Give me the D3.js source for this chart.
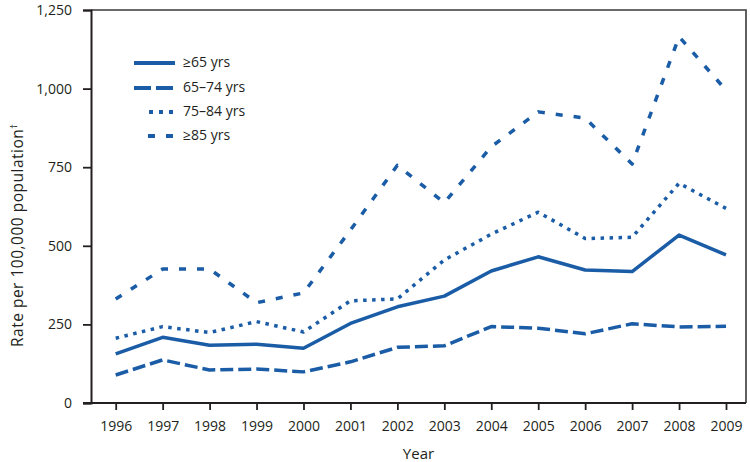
<!DOCTYPE html>
<html>
<head>
<meta charset="utf-8">
<script src="https://cdn.jsdelivr.net/npm/d3@7/dist/d3.min.js"></script>
<style>
  html, body { margin: 0; padding: 0; background: #fff; }
  svg { display: block; }
  text { font-family: "Open Sans", "Noto Sans", sans-serif; fill: #231f20; }
</style>
</head>
<body>
<svg id="chart" width="750" height="462"></svg>
<script>
const years = [1996, 1997, 1998, 1999, 2000, 2001, 2002, 2003, 2004, 2005, 2006, 2007, 2008, 2009];
const seriesNames = ["\u226565 yrs", "65\u201374 yrs", "75\u201384 yrs", "\u226585 yrs"];
const age65plus = [156, 209, 184, 187, 174, 253, 306, 340, 420, 465, 423, 418, 534, 471];
const age65to74 = [89, 137, 105, 108, 99, 131, 177, 182, 243, 238, 220, 252, 242, 244];
const age75to84 = [206, 243, 224, 259, 226, 325, 331, 455, 537, 607, 523, 527, 699, 619];
const age85plus = [331, 426, 426, 319, 350, 550, 756, 637, 815, 926, 906, 760, 1165, 995];
const yTicks = [0, 250, 500, 750, 1000, 1250];

const seriesValues = [age65plus, age65to74, age75to84, age85plus];
const dashes = [null, "13,5", "3.5,5.5", "7,11"];
const color = "#1a5ca6";

const svg = d3.select("#chart");
const mLeft = 91, mRight = 746, mTop = 10, mBottom = 403;

const x = d3.scaleLinear().domain([1996, 2009]).range([115.7, 726]);
const y = d3.scaleLinear().domain([0, 1250]).range([mBottom, mTop]);

// frame top & right
svg.append("path")
  .attr("d", `M${mLeft},${mTop}H${mRight}V${mBottom}`)
  .attr("fill", "none").attr("stroke", "#3a3a3a").attr("stroke-width", 1.6);

// y axis
const yAxis = svg.append("g").attr("transform", `translate(${mLeft},0)`)
  .call(d3.axisLeft(y).tickValues(yTicks).tickSize(8).tickPadding(11).tickFormat(d3.format(",")));
yAxis.select(".domain").attr("stroke", "#231f20").attr("stroke-width", 2);
yAxis.selectAll(".tick line").attr("stroke", "#231f20").attr("stroke-width", 1.8);
yAxis.selectAll("text").style("font-size", "14px").attr("fill", "#231f20");

// x axis
const xAxis = svg.append("g").attr("transform", `translate(0,${mBottom})`)
  .call(d3.axisBottom(x).tickValues(years).tickSize(7).tickPadding(11).tickFormat(d3.format("d")));
xAxis.select(".domain").attr("d", `M${mLeft - 8},0H${mRight}`).attr("stroke", "#231f20").attr("stroke-width", 2);
xAxis.selectAll(".tick line").attr("stroke", "#231f20").attr("stroke-width", 1.8);
xAxis.selectAll("text").style("font-size", "14px").attr("fill", "#231f20");

// axis titles
const yt = svg.append("text")
  .attr("transform", `translate(23,347) rotate(-90)`)
  .attr("text-anchor", "start")
  .style("font-size", "15.5px")
  .style("letter-spacing", "0.5px");
yt.append("tspan").text("Rate per 100,000 population");
yt.append("tspan").attr("baseline-shift", "super").style("font-size", "9px").text("\u2020");

svg.append("text")
  .attr("x", (mLeft + mRight) / 2).attr("y", 459)
  .attr("text-anchor", "middle")
  .style("font-size", "15px")
  .text("Year");

// lines
const line = d3.line().x((d, i) => x(years[i])).y(d => y(d));
seriesValues.forEach((vals, k) => {
  svg.append("path")
    .datum(vals)
    .attr("d", line)
    .attr("fill", "none")
    .attr("stroke", color)
    .attr("stroke-width", 3.5)
    .attr("stroke-linejoin", "round")
    .attr("stroke-dasharray", dashes[k]);
});

// legend
const legY = [63, 88, 112, 136];
const legStart = [134, 134, 149, 148];
const legDash = [null, "17,5", "4,6", "7,11"];
seriesNames.forEach((name, k) => {
  svg.append("line")
    .attr("x1", legStart[k]).attr("x2", 175)
    .attr("y1", legY[k]).attr("y2", legY[k])
    .attr("stroke", color).attr("stroke-width", 4)
    .attr("stroke-dasharray", legDash[k]);
  svg.append("text")
    .attr("x", 183).attr("y", legY[k])
    .attr("dominant-baseline", "middle")
    .style("font-size", "14px")
    .text(name);
});
</script>
</body>
</html>
